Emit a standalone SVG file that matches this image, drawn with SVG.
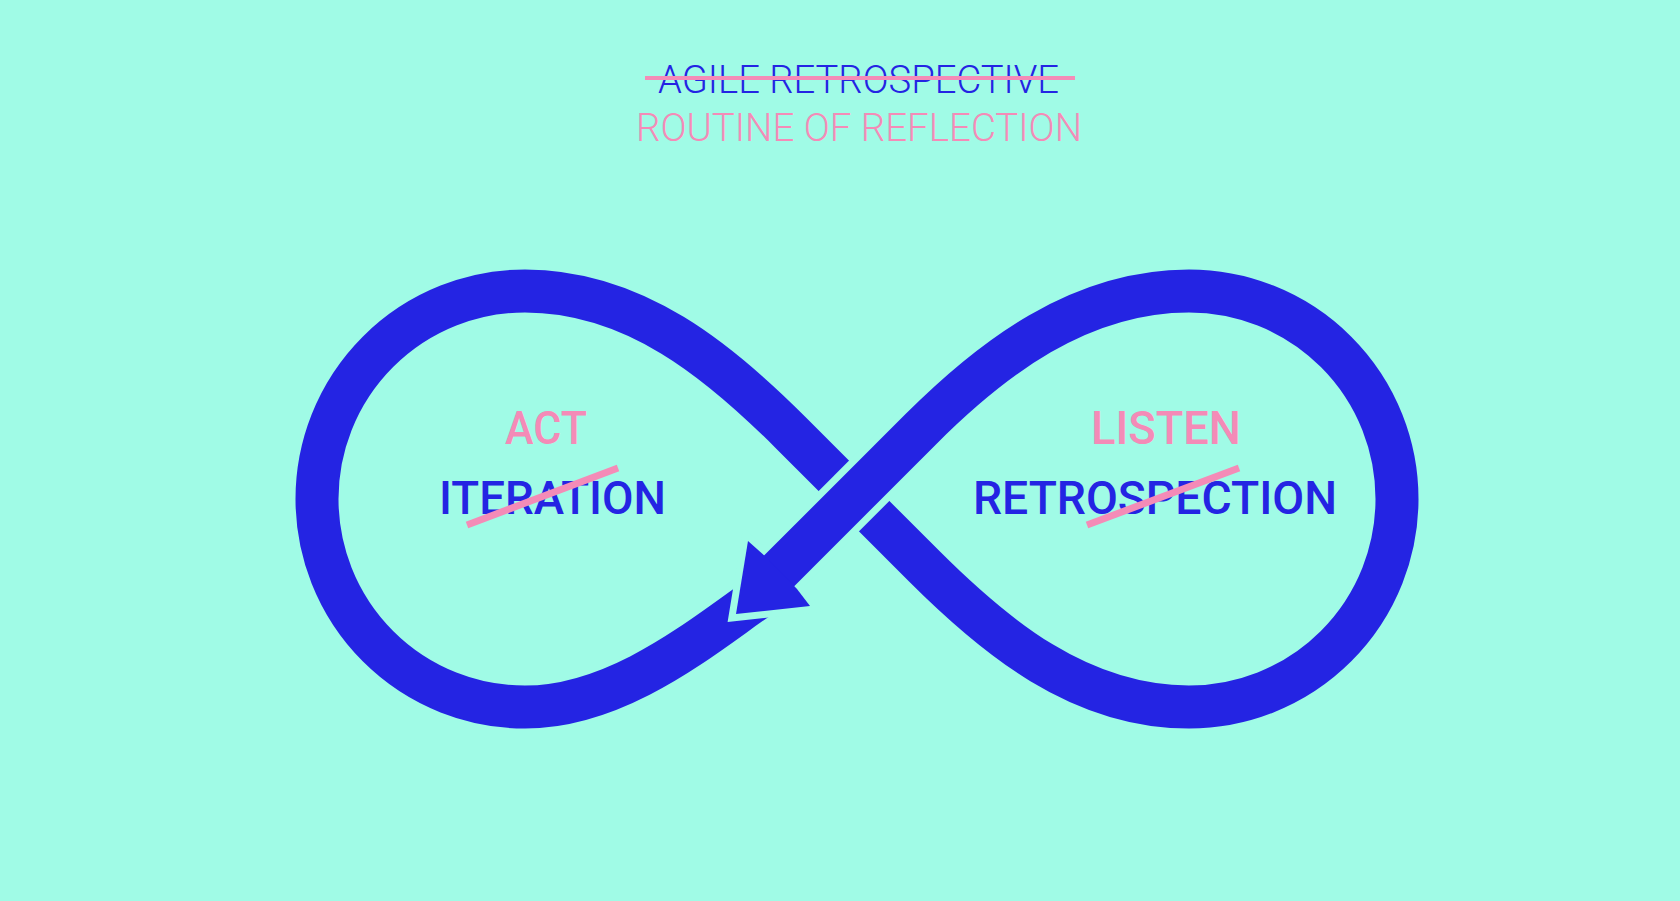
<svg xmlns="http://www.w3.org/2000/svg" width="1680" height="901" viewBox="0 0 1680 901">
<style>
.bg{fill:#A0FBE6}
.strand{fill:none;stroke:#2424E3;stroke-width:43}
.gap{fill:none;stroke:#A0FBE6;stroke-width:57}
.gaphead{fill:#A0FBE6;stroke:#A0FBE6;stroke-width:14;stroke-linejoin:miter}
.t{font-family:Roboto,"Liberation Sans",sans-serif}
.title{font-size:38px;font-weight:300}
.label{font-size:47px;font-weight:500}
.blue{fill:#2424E3}
.pink{fill:#F48BB7}
.strike{stroke:#F48BB7;fill:none}
</style>
<rect class="bg" x="0" y="0" width="1680" height="901"/>
<g id="title">
<text class="t title blue" x="658" y="93" textLength="401" lengthAdjust="spacingAndGlyphs">AGILE RETROSPECTIVE</text>
<line class="strike" x1="645" y1="78" x2="1075" y2="78" stroke-width="4"/>
<text class="t title pink" x="636" y="141" font-size="40" textLength="446" lengthAdjust="spacingAndGlyphs">ROUTINE OF REFLECTION</text>
</g>
<g id="connectors">
<path class="strand" d="M775,587 C723,618 630,707 525,707 A208,208 0 0 1 525,291 C635,291 720,362 790,432 L924,566 C994,636 1079,707 1189,707 A208,208 0 0 0 1189,291"/>
<line class="gap" x1="921" y1="429" x2="780" y2="570"/>
<polygon class="gaphead" points="767,558 748,541 736,614 810,606 797,589"/>
<path class="strand" d="M1189,291 C1079,291 991,359 921,429 L776,574"/>
<polygon points="767,558 748,541 736,614 810,606 797,589" fill="#2424E3"/>
</g>
<g id="act">
<text class="t label pink" x="505" y="444" textLength="82" lengthAdjust="spacingAndGlyphs">ACT</text>
<text class="t label blue" x="439" y="514" textLength="227" lengthAdjust="spacingAndGlyphs">ITERATION</text>
<line class="strike" x1="467" y1="525" x2="618" y2="468" stroke-width="7"/>
</g>
<g id="listen">
<text class="t label pink" x="1091" y="444" textLength="150" lengthAdjust="spacingAndGlyphs">LISTEN</text>
<text class="t label blue" x="973" y="514" textLength="364" lengthAdjust="spacingAndGlyphs">RETROSPECTION</text>
<line class="strike" x1="1087" y1="525" x2="1239" y2="468" stroke-width="7"/>
</g>
</svg>
